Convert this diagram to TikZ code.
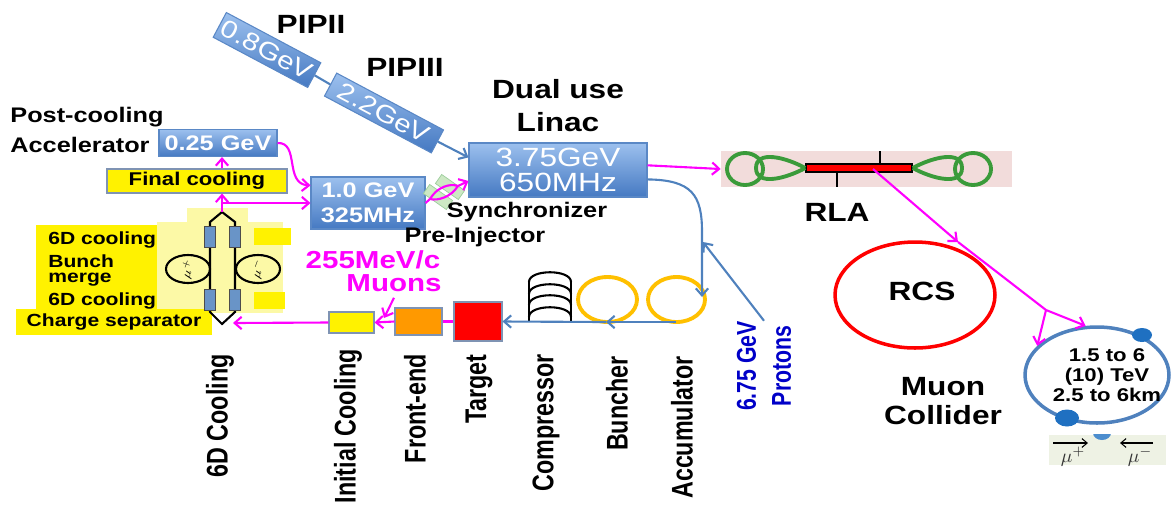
\documentclass[tikz,border=0pt]{standalone}
\usepackage{fontspec}
\setmainfont{Liberation Sans}[FakeStretch=1.2]
\newfontfamily\vertfont{Liberation Sans}[FakeStretch=0.78]
\usetikzlibrary{arrows.meta,shapes.geometric}

\definecolor{boxTop}{HTML}{9CC0EE}
\definecolor{boxBottom}{HTML}{4579C2}
\definecolor{boxEdge}{HTML}{5A88C6}
\definecolor{beamBlue}{HTML}{4F81BD}
\definecolor{muMagenta}{HTML}{FF00FF}
\definecolor{paleYellow}{HTML}{FCF9A6}
\definecolor{edgeGray}{HTML}{7F93B3}
\definecolor{ringGold}{HTML}{FFC000}
\definecolor{rlaPink}{HTML}{F2DCDB}
\definecolor{loopGreen}{HTML}{3A9B3A}
\definecolor{syncGreen}{HTML}{CDE8C4}
\definecolor{dotBlue}{HTML}{1F70C1}
\definecolor{ipGreen}{HTML}{EEF2E4}
\definecolor{protonBlue}{HTML}{0000C8}
\definecolor{frontOrange}{HTML}{FF9900}

\begin{document}
\begin{tikzpicture}
[x=0.02cm,y=-0.02cm,
  lineDecorate/.style={-,line width=1.2pt,draw=beamBlue},%
  blueArrow/.style={-{Straight Barb[length=4pt,width=7pt]},line width=1.2pt,draw=beamBlue},%
  pinkLine/.style={-,line width=1.2pt,draw=muMagenta},%
  pinkArrow/.style={-{Straight Barb[length=4pt,width=7pt]},line width=1.2pt,draw=muMagenta},%
  boxDecorate/.style={draw=boxEdge,line width=0.6pt,top color=boxTop,bottom color=boxBottom,text=white,inner sep=0pt},%
  yellowDecorate/.style={fill=yellow,draw=edgeGray,line width=0.6pt,inner sep=0pt},%
  legDecorate/.style={fill=beamBlue!85!white,draw=black!70,line width=0.5pt,minimum width=0.22cm,minimum height=0.42cm,inner sep=0pt},%
  circuitLine/.style={line width=1.2pt,draw=black},%
  bigLabel/.style={font=\bfseries\fontsize{15}{16}\selectfont},%
  midLabel/.style={font=\bfseries\fontsize{12}{14}\selectfont},%
  smallLabel/.style={font=\bfseries\fontsize{10}{12}\selectfont},%
  upLabel/.style={rotate=90,anchor=east,inner sep=0pt,font=\vertfont\bfseries\fontsize{17}{19}\selectfont}]
\useasboundingbox (0,0) rectangle (1176,505);

%% proton linacs
\node[boxDecorate,rotate=-28,minimum width=2.14cm,minimum height=0.56cm,
  font=\fontsize{14}{16}\selectfont] (pip2) at (267,50) {0.8GeV};
\node[boxDecorate,rotate=-28,minimum width=2.42cm,minimum height=0.52cm,
  font=\fontsize{14}{16}\selectfont] (pip3) at (384,113) {2.2GeV};
\node[bigLabel] (pip2Label) at (311,24) {PIPII};
\node[bigLabel] (pip3Label) at (405,67) {PIPIII};
\node[boxDecorate,minimum width=3.56cm,minimum height=1.08cm,align=center,
  font=\fontsize{15}{14.5}\selectfont] (linac) at (558,170) {3.75GeV\\650MHz};
\node[bigLabel] (dualLabel) at (558,89) {Dual use};
\node[bigLabel] (linacLabel) at (558,122) {Linac};
\draw[lineDecorate] (pip2.east) -- (pip3.west);
\draw[blueArrow] (pip3.east) -- (linac.172);

%% cooling and acceleration
\node[boxDecorate,minimum width=2.28cm,minimum height=1.04cm,align=center,
  font=\bfseries\fontsize{12}{14}\selectfont] (onegev) at (368,203) {1.0 GeV\\325MHz};
\node[boxDecorate,minimum width=2.36cm,minimum height=0.54cm,
  font=\bfseries\fontsize{12}{14}\selectfont] (postacc) at (218,143) {0.25 GeV};
\node[midLabel] (postLabel) at (87,117) {Post-cooling};
\node[midLabel] (accLabel) at (80,145) {Accelerator};
\node[yellowDecorate,minimum width=3.6cm,minimum height=0.48cm,
  font=\bfseries\fontsize{10.5}{12}\selectfont] (finalcool) at (197,181) {Final cooling};

\fill[paleYellow] (157,222) rectangle (283,313);
\fill[paleYellow] (187,208) rectangle (248,222);
\fill[yellow] (36,225) rectangle (157,310);
\fill[yellow] (254,228) rectangle (291,245);
\fill[yellow] (254,292) rectangle (285,309);
\node[fill=yellow,minimum width=3.92cm,minimum height=0.52cm,inner sep=0pt,
  smallLabel] (chargesep) at (114,322) {Charge separator};
\foreach \nodename/\y/\txt in {cool6a/240/6D cooling, bunchLabel/261/Bunch,
  mergeLabel/280/merge, cool6b/301/6D cooling}
{
  \node[smallLabel,anchor=west,inner sep=0pt] (\nodename) at (48,\y) {\txt};
}

%% charge separator ring
\coordinate (topApex) at (222,212);
\coordinate (botApex) at (222,324);
\draw[circuitLine] (topApex) -- (210,222) -- (210,312) -- (botApex)
  -- (235,312) -- (235,222) -- cycle;
\draw[circuitLine] (188,269) ellipse (22 and 14);
\draw[circuitLine] (258,269) ellipse (22 and 14);
\foreach \nodename/\x/\y in {legA/210/237, legB/235/237, legC/210/300, legD/235/300}
{
  \node[legDecorate] (\nodename) at (\x,\y) {};
}
\node[rotate=70,font=\fontsize{7}{8}\selectfont] (muPlusRing) at (188,269) {$\mu^+$};
\node[rotate=70,font=\fontsize{7}{8}\selectfont] (muMinusRing) at (258,269) {$\mu^-$};

\coordinate (coolOut) at (222,203);
\draw[pinkArrow] (topApex) -- (topApex |- finalcool.south);
\draw[pinkArrow] (topApex |- finalcool.north) -- (topApex |- postacc.south);
\draw[pinkArrow] (coolOut) -- (onegev.west);
\draw[pinkArrow] (postacc.east) .. controls (300,142) and (284,184) .. (onegev.163);

%% synchronizer
\node[fill=syncGreen,draw=loopGreen!50,rotate=-35,minimum width=0.56cm,
  minimum height=0.22cm,inner sep=0pt] (syncA) at (438,197) {};
\node[fill=syncGreen,draw=loopGreen!50,rotate=-35,minimum width=0.56cm,
  minimum height=0.22cm,inner sep=0pt] (syncB) at (450,187) {};
\coordinate (lensL) at (430,199);
\coordinate (lensR) at (458,186);
\draw[pinkLine] (onegev.east) -- (lensL) .. controls (437,187) and (450,183) .. (lensR)
  .. controls (451,197) and (438,201) .. (lensL);
\draw[pinkArrow] (lensR) -- (linac.187);
\node[midLabel] (syncLabel) at (527,212) {Synchronizer};
\node[midLabel] (preLabel) at (475,237) {Pre-Injector};

%% muon production line
\node[yellowDecorate,minimum width=0.9cm,minimum height=0.42cm] (initcool) at (351.5,322.5) {};
\node[fill=frontOrange,draw=edgeGray,line width=0.6pt,minimum width=0.94cm,
  minimum height=0.54cm,inner sep=0pt] (frontend) at (418.5,321.5) {};
\node[fill=red,draw=edgeGray,line width=0.6pt,minimum width=0.96cm,
  minimum height=0.78cm,inner sep=0pt] (target) at (478,321.5) {};
\node[font=\bfseries\fontsize{14}{16}\selectfont,text=muMagenta] (mevLabel) at (373,260) {255MeV/c};
\node[font=\bfseries\fontsize{14}{16}\selectfont,text=muMagenta] (muonsLabel) at (394,283) {Muons};
\coordinate (muIn) at (384,318);
\coordinate (sepIn) at (233,323);
\draw[pinkLine] (target.west) -- (frontend.east);
\draw[pinkArrow] (frontend.west) -- (initcool.east);
\draw[pinkArrow] (muonsLabel.south) -- (muIn);
\draw[pinkArrow] (initcool.west) -- (sepIn);

%% compressor, buncher, accumulator
\foreach \y in {272,284,295,307}
{
  \draw[circuitLine] (529,\y+10) .. controls (529,\y-3) and (571,\y-3) .. (571,\y+10);
}
\draw[circuitLine] (529,281) -- (529,322);
\draw[circuitLine] (571,281) -- (571,322);
\draw[ringGold,line width=2.2pt] (607.5,299.5) ellipse (29.5 and 22.5);
\draw[ringGold,line width=2.2pt] (676.5,299.5) ellipse (28.5 and 22.5);
\coordinate (accIn) at (702,297);
\coordinate (accOut) at (676,322);
\coordinate (bunchMid) at (606,322);
\coordinate (protonIn) at (703,242);
\draw[blueArrow] (linac.-6) .. controls (692,180) and (702,195) .. (702,232) -- (accIn);
\draw[blueArrow] (accOut) -- (bunchMid);
\draw[blueArrow] (bunchMid) -- (target.east);
\node[rotate=90,align=center,text=protonBlue,inner sep=0pt,
  font=\vertfont\bfseries\fontsize{15.5}{20}\selectfont] (protons) at (764,366) {6.75 GeV\\Protons};
\draw[blueArrow] (protons.east) -- (protonIn);

%% labels under the line
\foreach \nodename/\x/\y/\txt in {cool6d/220/354/6D Cooling, initLabel/348/349/Initial Cooling,
  frontLabel/415/354/Front-end, targetLabel/479/354/Target, compLabel/546/354/Compressor,
  bunchLabel/617/356/Buncher, accuLabel/682/356/Accumulator}
{
  \node[upLabel] (\nodename) at (\x,\y) {\txt};
}

%% recirculating linac
\node[fill=rlaPink,minimum width=5.82cm,minimum height=0.72cm,inner sep=0pt] (rla) at (866.5,169) {};
\draw[loopGreen,line width=2.2pt] (745,169) ellipse (18 and 16);
\draw[loopGreen,line width=2.2pt] (973,169) ellipse (18 and 16);
\node[fill=red,draw=black,line width=0.8pt,minimum width=2.12cm,minimum height=0.16cm,
  inner sep=0pt] (rlaBar) at (859,168) {};
\draw[loopGreen,line width=2.2pt] (rlaBar.west) .. controls (785,157) and (756,150) .. (756,168)
  .. controls (756,186) and (785,179) .. (rlaBar.west);
\draw[loopGreen,line width=2.2pt] (rlaBar.east) .. controls (933,157) and (962,150) .. (962,168)
  .. controls (962,186) and (933,179) .. (rlaBar.east);
\draw[circuitLine,line width=1.6pt] (880,164) -- (880,151);
\draw[circuitLine,line width=1.6pt] (837,172) -- (837,187);
\node[bigLabel] (rlaLabel) at (837,212) {RLA};
\draw[pinkArrow] (linac.3) -- (rla.west);

%% rapid cycling synchrotron and collider
\coordinate (rlaOut) at (873,169);
\coordinate (rcsIn) at (958,242);
\coordinate (colSplit) at (1046,310);
\draw[pinkArrow] (rlaOut) -- (rcsIn);
\draw[pinkLine] (rcsIn) -- (colSplit);
\node[draw=red,line width=2pt,ellipse,minimum width=3.2cm,minimum height=2.12cm,
  inner sep=0pt] (rcs) at (915,295) {};
\node[bigLabel] (rcsLabel) at (922,291) {RCS};
\node[draw=beamBlue,line width=2pt,ellipse,minimum width=2.88cm,minimum height=1.92cm,
  inner sep=0pt] (collider) at (1097,375) {};
\draw[pinkArrow] (colSplit) -- (collider.103);
\draw[pinkArrow] (colSplit) -- (collider.154);
\fill[dotBlue] (1142,335) ellipse (10 and 7);
\fill[dotBlue] (1067,418) ellipse (12 and 8.5);
\node[align=center,font=\bfseries\fontsize{10.5}{11.4}\selectfont] (colText) at (1107,375)
  {1.5 to 6\\(10) TeV\\2.5 to 6km};
\node[bigLabel,align=center] (mcLabel) at (943,401) {Muon\\Collider};

%% interaction point
\node[fill=ipGreen,minimum width=2.34cm,minimum height=0.6cm,inner sep=0pt] (ipBox) at (1107.5,450) {};
\begin{scope}
  \clip (ipBox.north west) rectangle (ipBox.south east);
  \fill[dotBlue!80] (1102,433) ellipse (9 and 7);
\end{scope}
\draw[-{Straight Barb[length=3pt,width=5pt]},line width=0.6pt] (1053,443) -- (1088,443);
\draw[-{Straight Barb[length=3pt,width=5pt]},line width=0.6pt] (1153,443) -- (1120,443);
\node[text=black!80,font=\fontsize{11}{12}\selectfont] (muPlus) at (1073,457) {$\mu^+$};
\node[text=black!80,font=\fontsize{11}{12}\selectfont] (muMinus) at (1140,457) {$\mu^-$};
\end{tikzpicture}
\end{document}
